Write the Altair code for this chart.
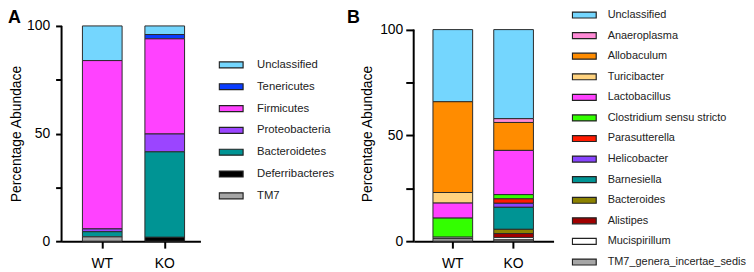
import altair as alt
import pandas as pd

FONT = "Liberation Sans, Arial, sans-serif"

groups = ["WT", "KO"]

phyla = ["Unclassified", "Tenericutes", "Firmicutes", "Proteobacteria",
         "Bacteroidetes", "Deferribacteres", "TM7"]
phyla_colors = ["#74D6FE", "#0A3DFF", "#FF42FF", "#9B45FF", "#009494", "#000000", "#A6A6A6"]
phyla_wt = [16.1, 0.0, 78.2, 1.3, 2.4, 0.0, 2.0]
phyla_ko = [4.0, 2.0, 44.2, 8.3, 39.7, 1.8, 0.0]

genera = ["Unclassified", "Anaeroplasma", "Allobaculum", "Turicibacter", "Lactobacillus",
          "Clostridium sensu stricto", "Parasutterella", "Helicobacter", "Barnesiella",
          "Bacteroides", "Alistipes", "Mucispirillum", "TM7_genera_incertae_sedis"]
genera_colors = ["#74D6FE", "#FF8AD6", "#FF8C00", "#FFD37F", "#FF42FF", "#33FF00", "#FF1A00",
                 "#8844FF", "#009494", "#8C8200", "#A00000", "#FFFFFF", "#A6A6A6"]
genera_wt = [34.1, 0.0, 42.9, 5.0, 7.1, 9.0, 0.0, 0.0, 0.0, 0.0, 0.0, 0.7, 1.2]
genera_ko = [42.1, 1.8, 13.2, 0.0, 20.9, 2.0, 2.1, 1.9, 10.4, 2.0, 1.9, 1.1, 0.6]

y_ticks = [0, 25, 50, 75, 100]
y_tick_labels = ["0", "", "50", "", "100"]
y_title = "Percentage Abundace"

SWATCH = "M-1,-0.25H1V0.25H-1Z"

labels_js = "[" + ",".join(f"'{l}'" for l in y_tick_labels) + "]"
values_js = "[" + ",".join(str(v) for v in y_ticks) + "]"
LABEL_EXPR = f"{labels_js}[indexof({values_js}, datum.value)]"


def frame(taxa, wt, ko):
    rows = []
    n = len(taxa)
    for g, vals in zip(groups, [wt, ko]):
        for i, (t, v) in enumerate(zip(taxa, vals)):
            if v > 0:
                rows.append({"group": g, "taxon": t, "value": v, "rank": n - i})
    return pd.DataFrame(rows)


def panel(df, taxa, colors, letter, width, ymax, pin, pout, align,
          ytick, ylabpad, ytitlepad, lx, ly, rowpad, laboff, lfs, letter_x):
    yscale = alt.Scale(domain=[0, ymax], nice=False, zero=True)
    yaxis = alt.Axis(title=y_title, values=y_ticks, labelExpr=LABEL_EXPR,
                     domain=False, grid=False, tickColor="black", tickWidth=2,
                     tickSize=ytick, labelPadding=ylabpad, labelFontSize=14,
                     labelColor="black", labelFont=FONT, titleFont=FONT,
                     titleFontSize=14, titleFontWeight="normal", titleColor="black",
                     titlePadding=ytitlepad)
    bars = alt.Chart(df).mark_bar(stroke="#2a2a2a", strokeWidth=1).encode(
        x=alt.X("group:N", sort=groups,
                scale=alt.Scale(paddingInner=pin, paddingOuter=pout, align=align),
                axis=alt.Axis(title=None, labelAngle=0, labelFontSize=14, labelColor="black",
                              labelFont=FONT, domainColor="black", domainWidth=2,
                              tickColor="black", tickWidth=2, tickSize=7, labelPadding=8.5)),
        y=alt.Y("value:Q", stack="zero", scale=yscale, axis=yaxis),
        color=alt.Color("taxon:N", scale=alt.Scale(domain=taxa, range=colors),
                        legend=alt.Legend(title=None, orient="none", legendX=lx, legendY=ly,
                                          symbolType=SWATCH, symbolSize=576,
                                          symbolStrokeColor="#222", symbolStrokeWidth=1.2,
                                          symbolOpacity=1, clipHeight=12, rowPadding=rowpad,
                                          labelOffset=laboff, labelFontSize=lfs,
                                          labelFont=FONT, labelColor="#222", padding=0,
                                          labelLimit=400)),
        order=alt.Order("rank:Q", sort="ascending"),
    )
    axis_line = alt.Chart(pd.DataFrame({"value": [0], "value2": [100]})).mark_rule(
        color="black", strokeWidth=2).encode(
        x=alt.value(0),
        y=alt.Y("value:Q", scale=yscale, axis=yaxis),
        y2="value2:Q",
    )
    tag = alt.Chart(pd.DataFrame({"label": [letter]})).mark_text(
        align="left", baseline="top", fontSize=18, fontWeight="bold", font=FONT,
        color="black").encode(
        x=alt.value(letter_x), y=alt.value(-17), text="label:N")
    return alt.layer(bars, axis_line, tag).properties(width=width, height=217)


chart_a = panel(frame(phyla, phyla_wt, phyla_ko), phyla, phyla_colors, "A",
                140, 100, 0.365, 0.294, 0.568,
                6, 6, 3, 158, 33.3, 10, 13, 11.4, -54)
chart_b = panel(frame(genera, genera_wt, genera_ko), genera, genera_colors, "B",
                141, 100 * 217 / 213.3, 0.347, 0.324, 0.489,
                8, 3, 5, 159, -17, 8.75, 10.5, 11.0, -67.3)

chart = alt.hconcat(chart_a, chart_b, spacing=12).resolve_scale(
    color="independent", x="independent", y="independent"
).resolve_legend(color="independent").properties(
    padding=0
).configure_view(stroke=None)

chart.save("out.html", embed_options={"renderer": "svg", "actions": False})
